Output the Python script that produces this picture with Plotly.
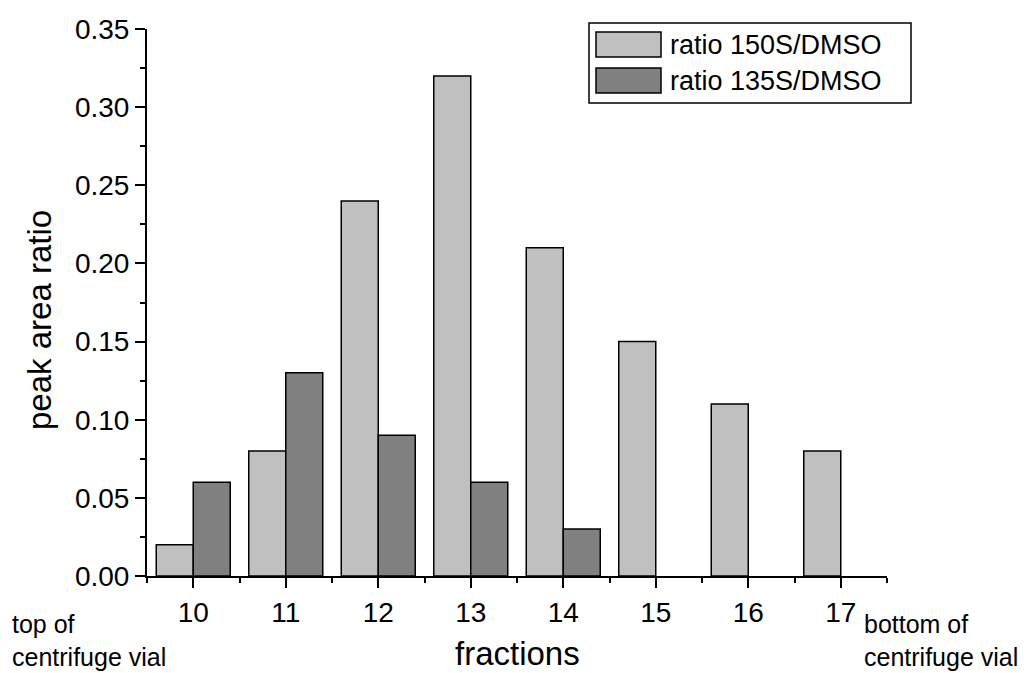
import plotly.graph_objects as go

fractions = [10, 11, 12, 13, 14, 15, 16, 17]
ratio_150 = [0.02, 0.08, 0.24, 0.32, 0.21, 0.15, 0.11, 0.08]
ratio_135 = [0.06, 0.13, 0.09, 0.06, 0.03, None, None, None]
series_names = ["ratio 150S/DMSO", "ratio 135S/DMSO"]
series_colors = ["#C0C0C0", "#808080"]
y_ticks = [0.0, 0.05, 0.10, 0.15, 0.20, 0.25, 0.30, 0.35]

W, H = 1033, 673
L, R, T, B = 147, 146, 29, 97
PW, PH = W - L - R, H - T - B
FONT = "Liberation Sans, Arial, sans-serif"


def px(x):
    return (x - L) / PW


def py(y):
    return (H - B - y) / PH


fig = go.Figure()
for name, vals, col in zip(series_names, [ratio_150, ratio_135], series_colors):
    fig.add_trace(go.Bar(
        x=fractions, y=vals, name=name,
        marker=dict(color=col, line=dict(color="black", width=1.5)),
        showlegend=False,
    ))

fig.update_layout(
    width=W, height=H, autosize=False,
    margin=dict(l=L, r=R, t=T, b=B, pad=0),
    paper_bgcolor="white", plot_bgcolor="white",
    barmode="group", bargap=0.2, bargroupgap=0,
    font=dict(family=FONT, color="black"),
)
fig.update_xaxes(
    range=[9.5, 17.5], tickmode="array", tickvals=fractions,
    ticktext=[str(f) for f in fractions],
    showline=True, linecolor="black", linewidth=2,
    ticks="outside", ticklen=10, tickwidth=2, tickcolor="black",
    minor=dict(tickmode="linear", tick0=9.5, dtick=1, ticks="outside",
               ticklen=5, tickwidth=2, tickcolor="black"),
    showgrid=False, zeroline=False,
    tickfont=dict(size=28, family=FONT, color="black"),
)
fig.update_yaxes(
    range=[0, 0.35], tickmode="array", tickvals=y_ticks,
    ticktext=[f"{v:.2f}" for v in y_ticks],
    showline=True, linecolor="black", linewidth=2,
    ticks="outside", ticklen=10, tickwidth=2, tickcolor="black",
    minor=dict(tickmode="linear", tick0=0.025, dtick=0.05, ticks="outside",
               ticklen=5, tickwidth=2, tickcolor="black"),
    showgrid=False, zeroline=False,
    tickfont=dict(size=28, family=FONT, color="black"),
)

# Legend (manual, to match big swatches)
shapes = [dict(type="rect", xref="paper", yref="paper",
               x0=px(589), x1=px(911), y0=py(103), y1=py(23),
               line=dict(color="black", width=1.5), fillcolor="white", layer="above")]
annots = []
rows = [(32, 57), (68, 93)]
for (ya, yb), name, col in zip(rows, series_names, series_colors):
    shapes.append(dict(type="rect", xref="paper", yref="paper",
                       x0=px(596), x1=px(661), y0=py(yb), y1=py(ya),
                       line=dict(color="black", width=1.5), fillcolor=col, layer="above"))
    annots.append(dict(xref="paper", yref="paper", x=px(668), y=py((ya + yb) / 2),
                       xanchor="left", yanchor="middle", showarrow=False,
                       text=name, font=dict(size=27, family=FONT, color="black")))

annots += [
    dict(xref="paper", yref="paper", x=px(40), y=py(320), text="peak area ratio",
         textangle=-90, xanchor="center", yanchor="middle", showarrow=False,
         font=dict(size=33, family=FONT, color="black")),
    dict(xref="paper", yref="paper", x=px(517), y=py(673), text="fractions",
         xanchor="center", yanchor="bottom", showarrow=False, borderpad=0,
         font=dict(size=33, family=FONT, color="black")),
    dict(xref="paper", yref="paper", x=px(10), y=py(608), text="top of<br>centrifuge vial",
         xanchor="left", yanchor="top", align="left", showarrow=False,
         font=dict(size=25, family=FONT, color="black")),
    dict(xref="paper", yref="paper", x=px(862), y=py(608), text="bottom of<br>centrifuge vial",
         xanchor="left", yanchor="top", align="left", showarrow=False,
         font=dict(size=25, family=FONT, color="black")),
]
fig.update_layout(shapes=shapes, annotations=annots)

fig.write_html("out.html")
